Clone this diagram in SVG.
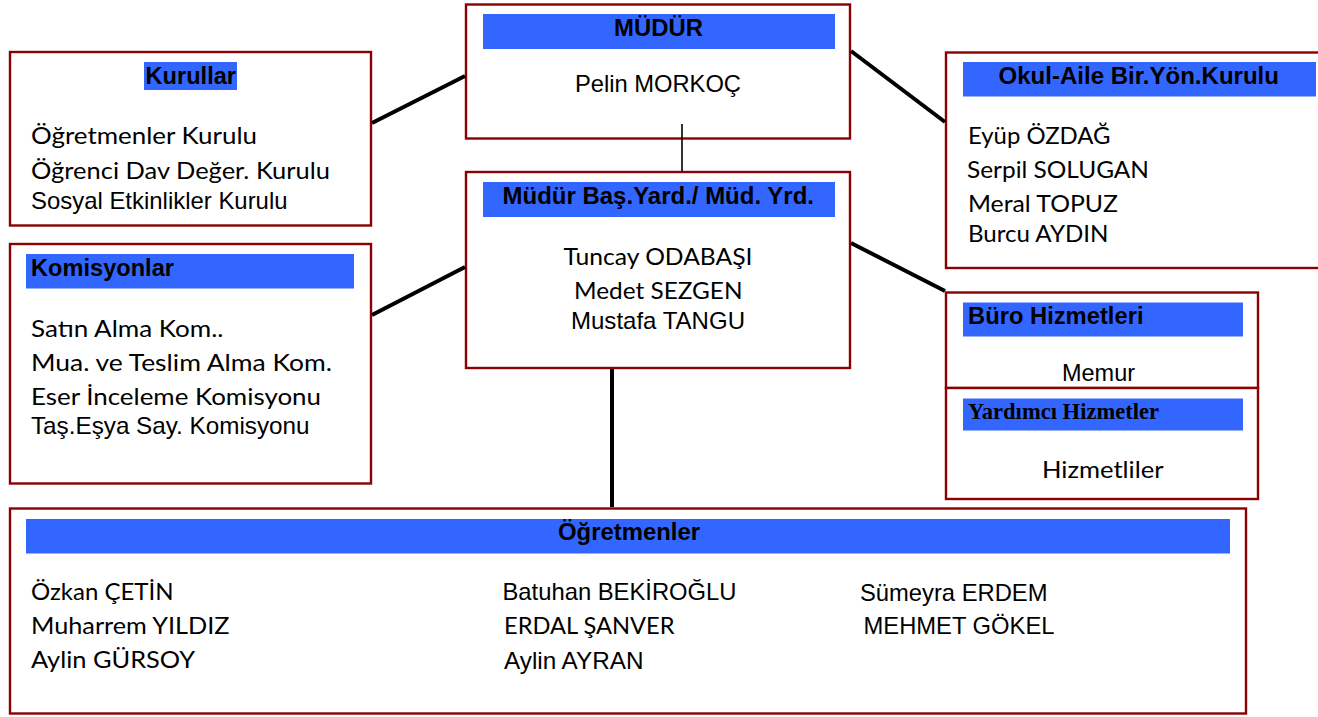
<svg xmlns="http://www.w3.org/2000/svg" width="1318" height="717" viewBox="0 0 1318 717">
<style>
.box{fill:#ffffff;stroke:#8b0000;stroke-width:2.4}
.bar{fill:#3366ff}
.con{stroke:#000;stroke-width:4;fill:none;stroke-linecap:butt}
.thin{stroke:#000;stroke-width:1.6}
.t{font-family:"Liberation Sans",Arial,sans-serif;font-size:24px;fill:#000}
.b{font-family:"Liberation Sans",Arial,sans-serif;font-size:24px;font-weight:bold;fill:#000}
.c{font-family:Lato,"Open Sans",sans-serif;font-size:24px;fill:#000}
.s{font-family:"Liberation Serif","Times New Roman",serif;font-size:23px;font-weight:bold;fill:#000}
</style>
<rect width="1318" height="717" fill="#ffffff"/>
<g id="mudur">
<rect class="box" x="466" y="4.5" width="384" height="134"/>
<rect class="bar" x="483" y="14" width="352" height="35"/>
<text class="b" x="614" y="36" textLength="89" lengthAdjust="spacingAndGlyphs">MÜDÜR</text>
<text class="t" x="575" y="92" textLength="166" lengthAdjust="spacingAndGlyphs">Pelin MORKOÇ</text>
</g>
<g id="mudur-yardimci">
<rect class="box" x="466" y="172" width="384" height="196"/>
<rect class="bar" x="483" y="182" width="352" height="35"/>
<text class="b" x="502.5" y="203.5" textLength="311.5" lengthAdjust="spacingAndGlyphs">Müdür Baş.Yard./ Müd. Yrd.</text>
<text class="c" x="563.5" y="265" textLength="189" lengthAdjust="spacingAndGlyphs">Tuncay ODABAŞI</text>
<text class="c" x="574" y="298.5" textLength="168.5" lengthAdjust="spacingAndGlyphs">Medet SEZGEN</text>
<text class="t" x="571" y="328.5" textLength="174" lengthAdjust="spacingAndGlyphs">Mustafa TANGU</text>
</g>
<g id="kurullar">
<rect class="box" x="10" y="52" width="361" height="173.5"/>
<rect class="bar" x="144" y="62" width="93" height="28"/>
<text class="b" x="145.5" y="83.5" textLength="90.5" lengthAdjust="spacingAndGlyphs">Kurullar</text>
<text class="c" x="31" y="144" textLength="226" lengthAdjust="spacingAndGlyphs">Öğretmenler Kurulu</text>
<text class="c" x="31" y="178.5" textLength="299" lengthAdjust="spacingAndGlyphs">Öğrenci Dav Değer. Kurulu</text>
<text class="t" x="31" y="208.5" textLength="256.5" lengthAdjust="spacingAndGlyphs">Sosyal Etkinlikler Kurulu</text>
</g>
<g id="komisyonlar">
<rect class="box" x="10" y="244" width="361" height="239.5"/>
<rect class="bar" x="26" y="254" width="328" height="34.5"/>
<text class="b" x="31" y="276" textLength="143" lengthAdjust="spacingAndGlyphs">Komisyonlar</text>
<text class="c" x="31" y="337" textLength="192.5" lengthAdjust="spacingAndGlyphs">Satın Alma Kom..</text>
<text class="c" x="31" y="371" textLength="301" lengthAdjust="spacingAndGlyphs">Mua. ve Teslim Alma Kom.</text>
<text class="c" x="31" y="405" textLength="290" lengthAdjust="spacingAndGlyphs">Eser İnceleme Komisyonu</text>
<text class="t" x="31" y="434" textLength="278.5" lengthAdjust="spacingAndGlyphs">Taş.Eşya Say. Komisyonu</text>
</g>
<g id="okul-aile">
<rect class="box" x="946" y="52.5" width="376" height="215.5"/>
<rect class="bar" x="963" y="62" width="353" height="34.5"/>
<text class="b" x="998.5" y="83.5" textLength="280.5" lengthAdjust="spacingAndGlyphs">Okul-Aile Bir.Yön.Kurulu</text>
<text class="c" x="968" y="144" textLength="142.5" lengthAdjust="spacingAndGlyphs">Eyüp ÖZDAĞ</text>
<text class="c" x="967" y="178" textLength="182" lengthAdjust="spacingAndGlyphs">Serpil SOLUGAN</text>
<text class="c" x="968" y="212" textLength="150" lengthAdjust="spacingAndGlyphs">Meral TOPUZ</text>
<text class="c" x="968" y="242" textLength="140.5" lengthAdjust="spacingAndGlyphs">Burcu AYDIN</text>
</g>
<g id="buro">
<rect class="box" x="946" y="292.5" width="312" height="95.5"/>
<rect class="bar" x="963" y="302.5" width="280" height="34"/>
<text class="b" x="968" y="323.5" textLength="175.5" lengthAdjust="spacingAndGlyphs">Büro Hizmetleri</text>
<text class="t" x="1062" y="380.5" textLength="73" lengthAdjust="spacingAndGlyphs">Memur</text>
</g>
<g id="yardimci">
<rect class="box" x="946" y="388" width="312" height="111"/>
<rect class="bar" x="963" y="398.5" width="280" height="32"/>
<text class="s" x="968" y="419" textLength="191" lengthAdjust="spacingAndGlyphs">Yardımcı Hizmetler</text>
<text class="c" x="1042" y="478" textLength="121.5" lengthAdjust="spacingAndGlyphs">Hizmetliler</text>
</g>
<g id="ogretmenler">
<rect class="box" x="10" y="508.5" width="1236" height="205"/>
<rect class="bar" x="26" y="519" width="1204" height="34.5"/>
<text class="b" x="558" y="540" textLength="142" lengthAdjust="spacingAndGlyphs">Öğretmenler</text>
<text class="c" x="31" y="600" textLength="142.5" lengthAdjust="spacingAndGlyphs">Özkan ÇETİN</text>
<text class="c" x="31" y="633.5" textLength="198.5" lengthAdjust="spacingAndGlyphs">Muharrem YILDIZ</text>
<text class="c" x="31" y="668" textLength="164" lengthAdjust="spacingAndGlyphs">Aylin GÜRSOY</text>
<text class="t" x="502.5" y="600" textLength="234" lengthAdjust="spacingAndGlyphs">Batuhan BEKİROĞLU</text>
<text class="c" x="504" y="634" textLength="170.5" lengthAdjust="spacingAndGlyphs">ERDAL ŞANVER</text>
<text class="t" x="504" y="669" textLength="139.5" lengthAdjust="spacingAndGlyphs">Aylin AYRAN</text>
<text class="t" x="860" y="601" textLength="187.5" lengthAdjust="spacingAndGlyphs">Sümeyra ERDEM</text>
<text class="t" x="863.5" y="634" textLength="191" lengthAdjust="spacingAndGlyphs">MEHMET GÖKEL</text>
</g>
<g id="connectors">
<line class="con" x1="372" y1="123" x2="465" y2="76"/>
<line class="con" x1="851" y1="51" x2="945" y2="122"/>
<line class="con" x1="372" y1="315" x2="465" y2="267"/>
<line class="con" x1="851" y1="243" x2="945" y2="291"/>
<line class="con" x1="612" y1="369" x2="612" y2="507"/>
<line class="thin" x1="682" y1="124" x2="682" y2="171"/>
</g>
</svg>
